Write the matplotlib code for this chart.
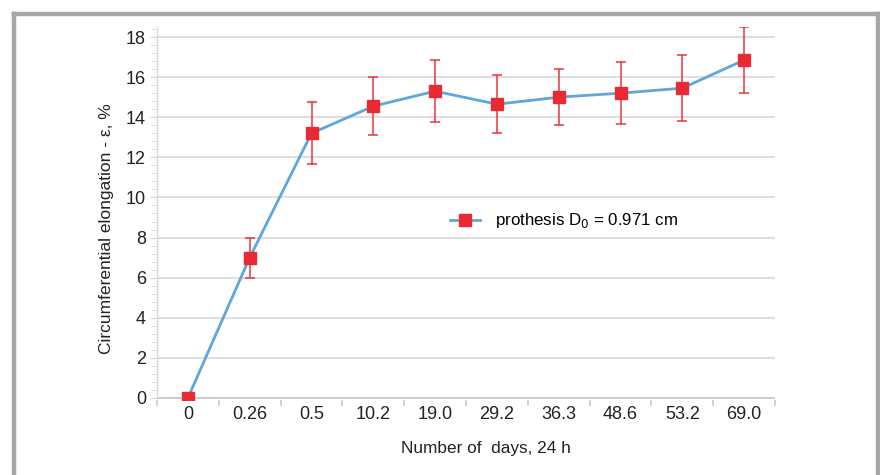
import matplotlib
matplotlib.use("Agg")
import matplotlib.pyplot as plt
from matplotlib.lines import Line2D
import numpy as np

plt.rcParams['font.family'] = ['Liberation Sans', 'DejaVu Sans']

categories = ["0", "0.26", "0.5", "10.2", "19.0", "29.2", "36.3", "48.6", "53.2", "69.0"]
elongation = [0.0, 7.0, 13.2, 14.55, 15.3, 14.65, 15.0, 15.2, 15.45, 16.85]
error = [0.0, 1.0, 1.55, 1.45, 1.55, 1.45, 1.4, 1.55, 1.65, 1.63]

line_color = "#5ea6db"
marker_color = "#ea2a33"
grid_color = "#d9d9d9"
text_color = "#222222"

W, H = 880, 475
fig = plt.figure(figsize=(W / 100, H / 100), dpi=100)

# frame
frame_c = "#a6a6a6"
for xs, ys in [([14, 878], [H - 14, H - 14]), ([14, 14], [0, H - 14]), ([878, 878], [0, H - 14])]:
    fig.add_artist(Line2D(np.array(xs) / W, np.array(ys) / H, color=frame_c, lw=3.2,
                          solid_capstyle='projecting', transform=fig.transFigure))

ax = fig.add_axes([157 / W, (H - 400) / H, (775 - 157) / W, (400 - 27) / H])
x = np.arange(len(categories))

ax.errorbar(x, elongation, yerr=error, fmt='none', ecolor=marker_color, alpha=0.8,
            elinewidth=1.3, capsize=3.5, capthick=1.3, zorder=3)
ax.plot(x, elongation, color=line_color, lw=2.0, zorder=4)
ax.plot(x, elongation, ls='none', marker='s', ms=8, color=marker_color, zorder=5)

ax.set_xlim(-0.5, len(categories) - 0.5)
ax.set_ylim(-0.1, 18.5)
ax.set_yticks(np.arange(0, 19, 2))
ax.set_yticks(np.arange(0, 18.5, 0.4), minor=True)
ax.set_xticks(x)
ax.set_xticklabels(categories)
ax.set_xticks(np.arange(-0.5, len(categories), 1), minor=True)

ax.grid(axis='y', which='major', color=grid_color, lw=1.2)
ax.set_axisbelow(True)
for s in ['top', 'right', 'bottom']:
    ax.spines[s].set_visible(False)
ax.spines['left'].set_color(grid_color)
ax.spines['left'].set_linewidth(1.0)
ax.axhline(0, color="#cccccc", lw=1.4, zorder=1)

ax.tick_params(axis='y', which='major', length=5, color=grid_color, labelsize=13,
               labelcolor=text_color, pad=3)
ax.tick_params(axis='y', which='minor', length=4, color=grid_color)
ax.tick_params(axis='x', which='major', length=0, labelsize=13, labelcolor=text_color, pad=4)
ax.tick_params(axis='x', which='minor', length=4, color="#cccccc", width=1.2)

fig.text(107 / W, 1 - 229 / H, "Circumferential elongation - ε, %", rotation=90,
         ha='center', va='center', fontsize=12.5, color=text_color)
fig.text(486 / W, 1 - 449 / H, "Number of  days, 24 h", ha='center', va='center',
         fontsize=12.4, color=text_color)

handle = Line2D([], [], color=line_color, lw=2.0, marker='s', ms=8,
                markerfacecolor=marker_color, markeredgecolor=marker_color)
ax.legend([handle], [r"prothesis D$_0$ = 0.971 cm"], loc='center left',
          bbox_to_anchor=(0.474, 0.48), frameon=False, fontsize=12.2, handlelength=1.8,
          handletextpad=0.85, borderpad=0, borderaxespad=0)

fig.savefig("out.png", dpi=100)
